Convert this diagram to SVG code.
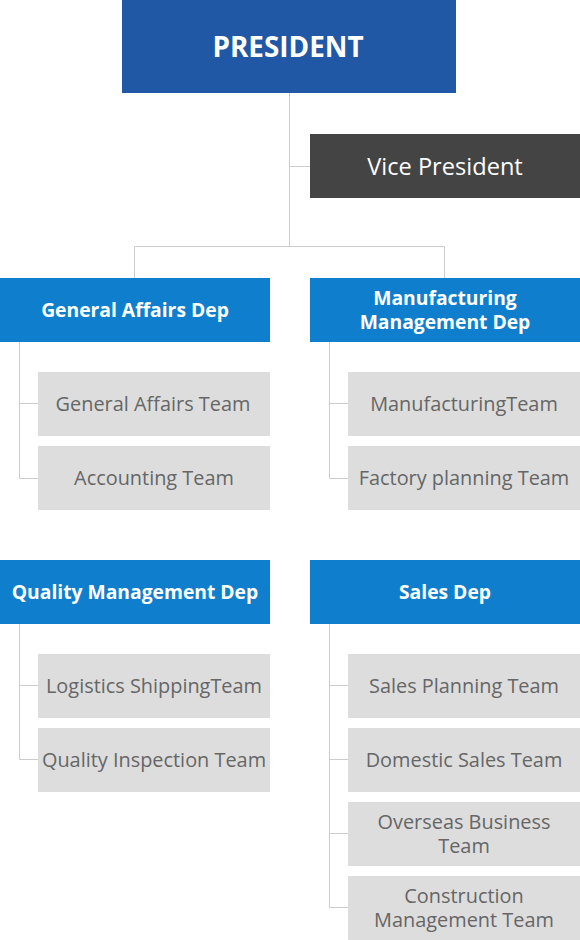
<svg xmlns="http://www.w3.org/2000/svg" width="580" height="940" viewBox="0 0 580 940">
<style>
.ln{stroke:#cccccc;stroke-width:1;fill:none}
.dep{fill:#0f7fcd}
.team{fill:#dddddd}
.tp{font-family:"Open Sans","Liberation Sans",sans-serif;font-weight:bold;font-size:27.9px;fill:#ffffff;text-anchor:middle}
.tv{font-family:"Open Sans","Liberation Sans",sans-serif;font-size:23.6px;fill:#ffffff;text-anchor:middle}
.td{font-family:"Open Sans","Liberation Sans",sans-serif;font-weight:bold;font-size:19.3px;fill:#ffffff;text-anchor:middle}
.tt{font-family:"Open Sans","Liberation Sans",sans-serif;font-size:19.9px;fill:#666666;text-anchor:middle}
</style>
<rect width="580" height="940" fill="#ffffff"/>
<g id="connectors">
<path class="ln" d="M289.5 93V247M289.5 166.5H310M134.5 278V246.5H444.5V278"/>
<path class="ln" d="M19.5 342V478.5H38M19.5 403.5H38"/>
<path class="ln" d="M329.5 342V478.5H348M329.5 403.5H348"/>
<path class="ln" d="M19.5 624V759.5H38M19.5 685.5H38"/>
<path class="ln" d="M329.5 624V907.5H348M329.5 685.5H348M329.5 759.5H348M329.5 833.5H348"/>
</g>
<g id="president"><rect x="122" y="0" width="334" height="93" fill="#2158a5"/><text class="tp" x="288" y="57">PRESIDENT</text></g>
<g id="vice-president"><rect x="310" y="134" width="270" height="64" fill="#444444"/><text class="tv" x="445" y="175">Vice President</text></g>
<g id="general-affairs-dep"><rect class="dep" x="0" y="278" width="270" height="64"/><text class="td" x="135" y="317">General Affairs Dep</text></g>
<g id="general-affairs-team"><rect class="team" x="38" y="372" width="232" height="64"/><text class="tt" x="153" y="411">General Affairs Team</text></g>
<g id="accounting-team"><rect class="team" x="38" y="446" width="232" height="64"/><text class="tt" x="154" y="485">Accounting Team</text></g>
<g id="manufacturing-management-dep"><rect class="dep" x="310" y="278" width="270" height="64"/><text class="td" x="445" y="305">Manufacturing</text><text class="td" x="445" y="329">Management Dep</text></g>
<g id="manufacturing-team"><rect class="team" x="348" y="372" width="232" height="64"/><text class="tt" x="464" y="411">ManufacturingTeam</text></g>
<g id="factory-planning-team"><rect class="team" x="348" y="446" width="232" height="64"/><text class="tt" x="464" y="485">Factory planning Team</text></g>
<g id="quality-management-dep"><rect class="dep" x="0" y="560" width="270" height="64"/><text class="td" x="135" y="599">Quality Management Dep</text></g>
<g id="logistics-shipping-team"><rect class="team" x="38" y="654" width="232" height="64"/><text class="tt" x="154" y="693">Logistics ShippingTeam</text></g>
<g id="quality-inspection-team"><rect class="team" x="38" y="728" width="232" height="64"/><text class="tt" x="154" y="767">Quality Inspection Team</text></g>
<g id="sales-dep"><rect class="dep" x="310" y="560" width="270" height="64"/><text class="td" x="445" y="599">Sales Dep</text></g>
<g id="sales-planning-team"><rect class="team" x="348" y="654" width="232" height="64"/><text class="tt" x="464" y="693">Sales Planning Team</text></g>
<g id="domestic-sales-team"><rect class="team" x="348" y="728" width="232" height="64"/><text class="tt" x="464" y="767">Domestic Sales Team</text></g>
<g id="overseas-business-team"><rect class="team" x="348" y="802" width="232" height="64"/><text class="tt" x="464" y="829">Overseas Business</text><text class="tt" x="464" y="853">Team</text></g>
<g id="construction-management-team"><rect class="team" x="348" y="876" width="232" height="64"/><text class="tt" x="464" y="903">Construction</text><text class="tt" x="464" y="927">Management Team</text></g>
</svg>
